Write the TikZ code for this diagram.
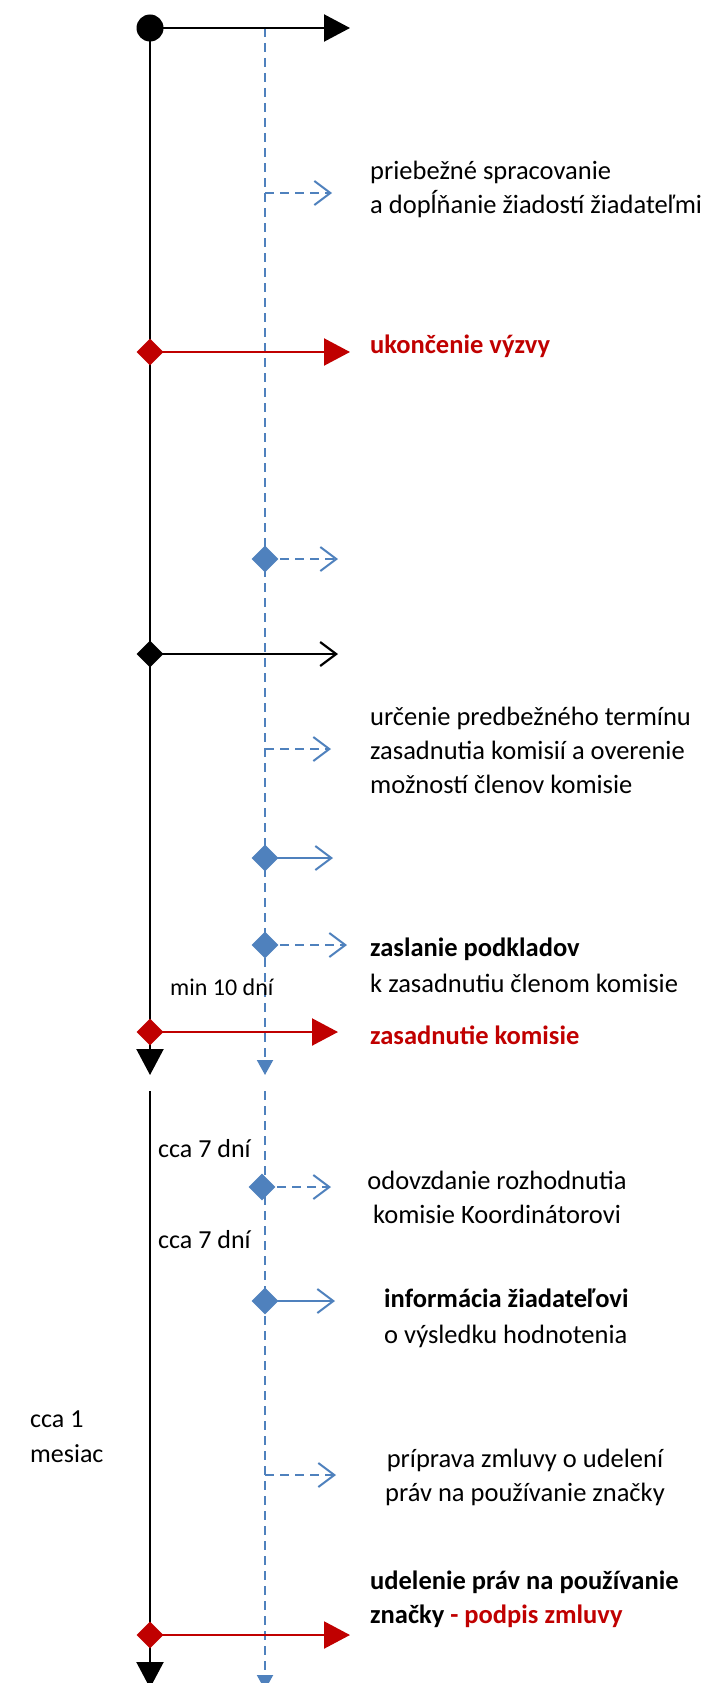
\documentclass[tikz,border=0pt]{standalone}
\usepackage{fontspec}
\setmainfont{Carlito}
\usetikzlibrary{arrows.meta,shapes.geometric,positioning}
\definecolor{lblue}{HTML}{4F81BD}
\definecolor{dred}{HTML}{C00000}
\tikzset{
  axis/.style={line width=2.2pt},
  lane/.style={lblue,line width=2pt,dash pattern=on 9pt off 6pt},
  bigtip/.style={-{Triangle[length=26pt,width=27pt]}},
  smalltip/.style={-{Triangle[length=15pt,width=16pt]}},
  opentip/.style={-{Straight Barb[length=16pt,width=24pt]}},
  milestone/.style={diamond,fill=#1,inner sep=0pt,minimum size=27pt},
  txt/.style={anchor=west,inner sep=0pt,font=\fontsize{26.5}{34}\selectfont,align=left},
  note/.style={anchor=west,inner sep=0pt,font=\fontsize{26}{34}\selectfont,align=left},
}
\begin{document}
\begin{tikzpicture}[x=1pt,y=-1pt]
    \useasboundingbox (0,0) rectangle (709,1683);
    % points on the axes
    \coordinate (start) at (150,28);
    \coordinate (toptip) at (350,28);
    \coordinate (axend) at (150,1075);
    \coordinate (axrestart) at (150,1091);
    \coordinate (axbottom) at (150,1688);
    \coordinate (lanetop) at (265,28);
    \coordinate (laneend) at (265,1075);
    \coordinate (lanerestart) at (265,1091);
    \coordinate (lanebottom) at (265,1690);
    \coordinate (r1) at (150,352);   \coordinate (r1tip) at (350,352);
    \coordinate (b1) at (265,559);   \coordinate (b1tip) at (338,559);
    \coordinate (k1) at (150,654);   \coordinate (k1tip) at (338,654);
    \coordinate (p1) at (265,193);   \coordinate (p1tip) at (332,193);
    \coordinate (p2) at (265,749);   \coordinate (p2tip) at (331,749);
    \coordinate (b2) at (265,858);   \coordinate (b2tip) at (333,858);
    \coordinate (b3) at (265,945);   \coordinate (b3tip) at (347,945);
    \coordinate (r2) at (150,1032);  \coordinate (r2tip) at (338,1032);
    \coordinate (b4) at (262,1187);  \coordinate (b4tip) at (331,1187);
    \coordinate (b5) at (265,1301);  \coordinate (b5tip) at (335,1301);
    \coordinate (p3) at (265,1475);  \coordinate (p3tip) at (336,1475);
    \coordinate (r3) at (150,1635);  \coordinate (r3tip) at (350,1635);
    % axes
    \draw[lane,smalltip] (lanetop) -- (laneend);
    \draw[lane,smalltip] (lanerestart) -- (lanebottom);
    \draw[axis,bigtip] (start) -- (axend);
    \draw[axis,bigtip] (axrestart) -- (axbottom);
    \draw[axis,bigtip] (start) -- (toptip);
    % arrows
    \draw[lane,opentip] (p1) -- (p1tip);
    \draw[lane,opentip] (p2) -- (p2tip);
    \draw[lane,opentip] (p3) -- (p3tip);
    \draw[lane,opentip] (b1) -- (b1tip);
    \draw[lane,opentip] (b3) -- (b3tip);
    \draw[lane,opentip] (b4) -- (b4tip);
    \draw[lblue,line width=2pt,opentip] (b2) -- (b2tip);
    \draw[lblue,line width=2pt,opentip] (b5) -- (b5tip);
    \draw[axis,opentip] (k1) -- (k1tip);
    \draw[dred,axis,bigtip] (r1) -- (r1tip);
    \draw[dred,axis,bigtip] (r2) -- (r2tip);
    \draw[dred,axis,bigtip] (r3) -- (r3tip);
    % milestones
    \node[circle,fill,inner sep=0pt,minimum size=27pt] (startdot) at (start) {};
    \node[milestone=dred] (r1m) at (r1) {};
    \node[milestone=dred] (r2m) at (r2) {};
    \node[milestone=dred] (r3m) at (r3) {};
    \node[milestone=black] (k1m) at (k1) {};
    \node[milestone=lblue] (b1m) at (b1) {};
    \node[milestone=lblue] (b2m) at (b2) {};
    \node[milestone=lblue] (b3m) at (b3) {};
    \node[milestone=lblue] (b4m) at (b4) {};
    \node[milestone=lblue] (b5m) at (b5) {};
    % texts
    \node[txt] (t1) at (370,189) {priebežné spracovanie\\a dopĺňanie žiadostí žiadateľmi};
    \node[txt,text=dred,font=\fontsize{26.5}{34}\selectfont\bfseries] (t2) at (370,346) {ukončenie výzvy};
    \node[txt] (t3) at (370,750) {určenie predbežného termínu\\zasadnutia komisií a overenie\\možností členov komisie};
    \node[txt,font=\fontsize{26.5}{34}\selectfont\bfseries] (t4) at (370,949) {zaslanie podkladov};
    \node[txt] (t5) at (370,983) {k zasadnutiu členom komisie};
    \node[note,font=\fontsize{24}{30}\selectfont] (n1) at (170,987) {min 10 dní};
    \node[txt,text=dred,font=\fontsize{26.5}{34}\selectfont\bfseries] (t6) at (370,1035) {zasadnutie komisie};
    \node[note] (n2) at (158,1149) {cca 7 dní};
    \node[note] (n3) at (158,1240) {cca 7 dní};
    \node[txt,anchor=center,align=center] (t7) at (497,1197) {odovzdanie rozhodnutia\\komisie Koordinátorovi};
    \node[txt,font=\fontsize{26.5}{34}\selectfont\bfseries] (t8) at (384,1298) {informácia žiadateľovi};
    \node[txt] (t9) at (384,1336) {o výsledku hodnotenia};
    \node[note,font=\fontsize{26}{35}\selectfont] (n4) at (30,1437) {cca 1\\mesiac};
    \node[txt,anchor=center,align=center] (t10) at (525,1477) {príprava zmluvy o udelení\\práv na používanie značky};
    \node[txt,font=\fontsize{26.5}{34}\selectfont\bfseries] (t11) at (370,1599) {udelenie práv na používanie\\značky \textcolor{dred}{- podpis zmluvy}};
\end{tikzpicture}
\end{document}
